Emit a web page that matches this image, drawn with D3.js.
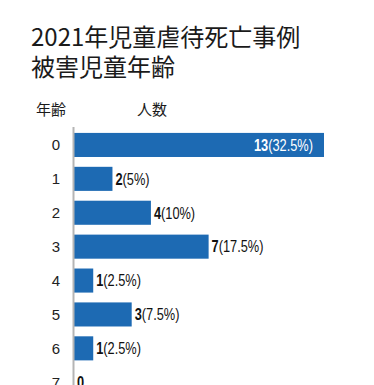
<!DOCTYPE html>
<head>
  <meta charset="utf-8">
  <script src="https://d3js.org/d3.v7.min.js"></script>
  <style>
body { margin: 0; background: #fff; }
.title { font-family: "Noto Sans CJK JP", sans-serif; font-size: 24px; fill: #1a1a1a; }
.head { font-family: "Noto Sans CJK JP", sans-serif; font-size: 15px; fill: #1a1a1a; }
.cat { font-family: "Liberation Sans", Arial, sans-serif; font-size: 15px; fill: #222; }
/* the labels in the source are set in a narrow face; squeeze a normal one */
.val { font-family: "Liberation Sans", Arial, sans-serif; font-size: 16px; fill: #111; }
.val tspan.n { font-weight: 700; }
  </style>
</head>
<body>
  <script>
    // ages and number of deaths
    var ages = ["0", "1", "2", "3", "4", "5", "6", "7"];
    var counts = [13, 2, 4, 7, 1, 3, 1, 0];
    var shares = ["32.5%", "5%", "10%", "17.5%", "2.5%", "7.5%", "2.5%", ""];
    var titleLines = ["2021年児童虐待死亡事例", "被害児童年齢"];

    var W = 374, H = 385;
    var svg = d3.select("body").append("svg")
      .attr("width", W)
      .attr("height", H);

    svg.selectAll(".title")
      .data(titleLines)
    .enter().append("text")
      .attr("class", "title")
      .attr("x", 31)
      .attr("y", (d, i) => 46 + i * 30)
      .text(d => d);

    svg.append("text").attr("class", "head")
      .attr("x", 51).attr("y", 115).attr("text-anchor", "middle").text("年齢");
    svg.append("text").attr("class", "head")
      .attr("x", 152).attr("y", 115).attr("text-anchor", "middle").text("人数");

    var step = 33.9;
    var y = d3.scaleBand()
      .domain(ages)
      .range([128, 128 + ages.length * step])
      .paddingInner(0.29)
      .paddingOuter(0.145);

    var x = d3.scaleLinear()
      .domain([0, 13])
      .range([74, 324]);

    // bars
    svg.selectAll(".bar")
      .data(counts)
    .enter().append("rect")
      .attr("class", "bar")
      .attr("x", x(0))
      .attr("y", (d, i) => y(ages[i]))
      .attr("width", d => x(d) - x(0))
      .attr("height", y.bandwidth())
      .attr("fill", "#1d6ab3");

    // axis line
    svg.append("line")
      .attr("x1", x(0) - 0.5).attr("x2", x(0) - 0.5)
      .attr("y1", 127).attr("y2", H)
      .attr("stroke", "#b5b5b5")
      .attr("stroke-width", 2);

    // age labels
    svg.selectAll(".cat")
      .data(ages)
    .enter().append("text")
      .attr("class", "cat")
      .attr("x", 56)
      .attr("y", d => y(d) + y.bandwidth() / 2)
      .attr("dy", "0.36em")
      .attr("text-anchor", "middle")
      .text(d => d);

    // value labels: the largest bar keeps its label inside
    var lbl = svg.selectAll(".val")
      .data(counts)
    .enter().append("text")
      .attr("class", "val")
      .attr("transform", function(d, i) {
        var px = i === 0 ? x(d) - 11 : x(d) + 3;
        var py = y(ages[i]) + y.bandwidth() / 2;
        return "translate(" + px + "," + py + ") scale(0.8,1)";
      })
      .attr("dy", "0.36em")
      .attr("text-anchor", (d, i) => i === 0 ? "end" : "start")
      .style("fill", (d, i) => i === 0 ? "#fff" : "#111");

    lbl.append("tspan").attr("class", "n").text(d => d);
    lbl.append("tspan").text((d, i) => shares[i] ? "(" + shares[i] + ")" : "");
  </script>
</body>
